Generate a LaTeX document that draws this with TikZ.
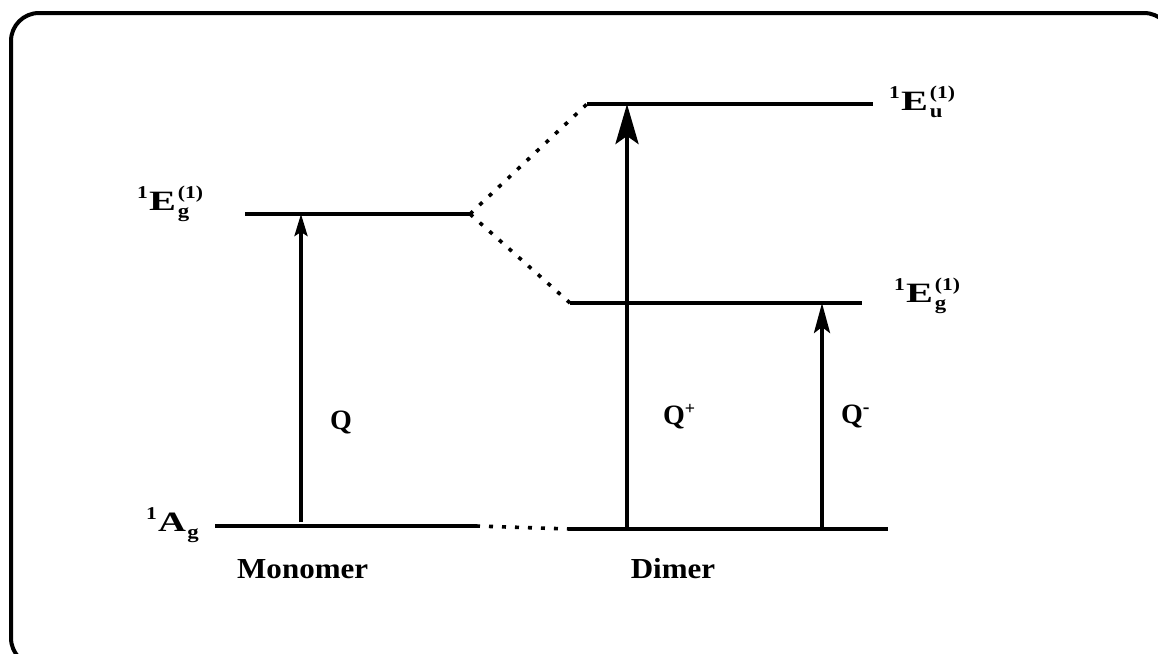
\documentclass[tikz,border=0pt]{standalone}
\usepackage{fontspec}
\setmainfont{Liberation Serif}
\usepackage{graphicx}
\usetikzlibrary{arrows.meta}
\newcommand{\sx}[2]{\scalebox{#1}[1]{#2}}
\newcommand{\supsc}[1]{\raisebox{12pt}{\fontsize{18}{18}\selectfont #1}}
\newcommand{\subsc}[1]{\raisebox{-7pt}{\fontsize{19}{19}\selectfont #1}}
\newcommand{\term}[3]{\sx{1.2}{\supsc{1}\kern1pt\sx{1.2}{#1}\kern1.5pt\makebox[0pt][l]{\subsc{#2}}\supsc{#3}}}
\begin{document}
\begin{tikzpicture}[x=1pt,y=-1pt,
  level/.style={line width=4.2pt},
  conn/.style={line width=3.6pt, dash pattern=on 4pt off 9pt},
  lbl/.style={font=\bfseries\fontsize{29}{32}\selectfont, inner sep=0pt},
  st/.style={font=\bfseries\fontsize{28}{30}\selectfont, inner sep=0pt}]
\useasboundingbox (0,0) rectangle (1158,653);
\draw[line width=4pt, rounded corners=28pt] (11,13) rectangle (1172,666);
% monomer
\coordinate (mgL) at (215,526); \coordinate (mgR) at (476,526);
\coordinate (meL) at (245,214); \coordinate (meR) at (470,214);
\draw[level] (mgL) -- (mgR);
\draw[level] (meL) -- (meR);
% dimer
\coordinate (dgL) at (570,529); \coordinate (dgR) at (888,529);
\coordinate (duL) at (587,104); \coordinate (duR) at (873,104);
\coordinate (dlL) at (570,303); \coordinate (dlR) at (862,303);
\draw[level] (dgL) -- (dgR);
\draw[level] (duL) -- (duR);
\draw[line width=3.6pt] (dlL) -- (dlR);
% correlation
\draw[conn] (mgR) -- (dgL);
\draw[conn] (meR) -- (duL);
\draw[conn] (meR) -- (dlL);
% transitions
\coordinate (qa) at (301,522); \coordinate (qb) at (301,214);
\coordinate (pa) at (627,529); \coordinate (pb) at (627,104);
\coordinate (ma) at (822,529); \coordinate (mb) at (822,303);
\draw[line width=3.5pt, -{Stealth[length=22pt,width=13pt,inset=4pt]}] (qa) -- (qb);
\draw[line width=4.2pt, -{Stealth[length=40pt,width=23pt,inset=8pt]}] (pa) -- (pb);
\draw[line width=3.8pt, -{Stealth[length=30pt,width=16pt,inset=6pt]}] (ma) -- (mb);
% labels
\node[st, anchor=base west] (lq) at (330,429) {Q};
\node[st, anchor=base west] (lqp) at (663,424) {Q\raisebox{10pt}{\fontsize{18}{18}\selectfont +}};
\node[st, anchor=base west] (lqm) at (841,423) {Q\raisebox{10pt}{\fontsize{20}{20}\selectfont -}};
\node[lbl, anchor=base west] (mon) at (237,578) {\sx{1.07}{Monomer}};
\node[lbl, anchor=base] (dim) at (673,578) {\sx{1.07}{Dimer}};
\node[st, anchor=base west] (t1) at (137,210) {\term{E}{g}{(1)}};
\node[st, anchor=base west] (t2) at (889,110) {\term{E}{u}{(1)}};
\node[st, anchor=base west] (t3) at (894,302) {\term{E}{g}{(1)}};
\node[st, anchor=base west] (t4) at (146,531) {\sx{1.2}{\supsc{1}\kern1pt\sx{1.15}{A}\kern1pt\subsc{g}}};
\end{tikzpicture}
\end{document}
